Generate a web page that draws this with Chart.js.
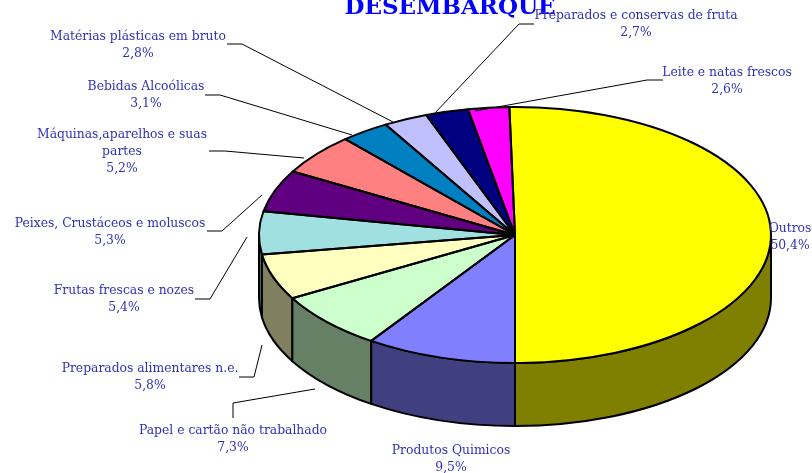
<!DOCTYPE html>
<html><head><meta charset="utf-8">
<style>html,body{margin:0;padding:0;background:#fff;overflow:hidden}canvas{display:block}</style>
<script src="https://cdn.jsdelivr.net/npm/chart.js@4"></script></head>
<body><div style="width:812px;height:473px"><canvas id="c" width="812" height="473"></canvas></div>
<script>
const titleText = "DESEMBARQUE";
const categories = ["Outros","Produtos Quimicos","Papel e cartão não trabalhado","Preparados alimentares n.e.","Frutas frescas e nozes","Peixes, Crustáceos e moluscos","Máquinas,aparelhos e suas partes","Bebidas Alcoólicas","Matérias plásticas em bruto","Preparados e conservas de fruta","Leite e natas frescos"];
const shares = [50.4,9.5,7.3,5.8,5.4,5.3,5.2,3.1,2.8,2.7,2.6];
const topColors = ["#FFFF00","#8080FF","#CCFFCC","#FFFFC0","#A0E0E0","#600080","#FF8080","#0080C0","#C0C0FF","#000080","#FF00FF"];
const sideColors = ["#808000","#404080","#668066","#808060","#507070","#300040","#804040","#004060","#606080","#000040","#800080"];
// label layout: wrapped lines, centre x, first baseline y
const labelLines = [["Outros"],["Produtos Quimicos"],["Papel e cartão não trabalhado"],["Preparados alimentares n.e."],["Frutas frescas e nozes"],["Peixes, Crustáceos e moluscos"],["Máquinas,aparelhos e suas","partes"],["Bebidas Alcoólicas"],["Matérias plásticas em bruto"],["Preparados e conservas de fruta"],["Leite e natas frescos"]];
const labelX = [790,451,233,150,124,110,122,146,138,636,727];
const labelY = [232,454,434,372,294,227,138,90,40,19,76];
const leaders = [null,null,
 [[233,418],[233,403],[315,389]],
 [[239,377],[254,377],[262,345]],
 [[195,299],[210,299],[247,237]],
 [[207,231],[222,231],[262,195]],
 [[209,151],[225,151],[304,158]],
 [[205,95],[220,95],[352,135]],
 [[227,44],[242,44],[393,122]],
 [[534,24],[519,24],[434,114]],
 [[663,80],[647,80],[475,111]]];
const RX = 256, TILT = 0.5, DEPTH = 63;
const TEXT = "#3030B8", LABEL_FONT = "12.35px 'DejaVu Serif'", LINE = 17;

const pie3d = {
  id:"pie3d",
  beforeDraw(chart){
    const ctx = chart.ctx;
    ctx.save();
    ctx.font = "bold 23px 'DejaVu Serif'";
    ctx.fillStyle = "#0000FF"; ctx.textAlign="center"; ctx.textBaseline="alphabetic";
    ctx.fillText(titleText,450,14);
    ctx.restore();
  },
  beforeDatasetsDraw(chart){
    const ctx = chart.ctx, arcs = chart.getDatasetMeta(0).data;
    const cx = arcs[0].x, cy = arcs[0].y, ry = RX*TILT;
    ctx.save();
    ctx.lineWidth = 2; ctx.strokeStyle="#000"; ctx.lineJoin="round";
    const TAU = Math.PI*2;
    const walls = [];
    arcs.forEach((a,i)=>{
      let s = a.startAngle, e = a.endAngle;
      while(s<-1e-6){s+=TAU;e+=TAU;}
      const from = s, to = Math.min(e,Math.PI);
      if(from<Math.PI) walls.push({i,from,to});
      if(e>TAU){ walls.push({i,from:0,to:Math.min(e-TAU,Math.PI)}); }
    });
    walls.sort((p,q)=>Math.abs(Math.cos((q.from+q.to)/2))-Math.abs(Math.cos((p.from+p.to)/2)));
    walls.forEach(w=>{
      ctx.beginPath();
      ctx.ellipse(cx,cy,RX,ry,0,w.from,w.to,false);
      ctx.ellipse(cx,cy+DEPTH,RX,ry,0,w.to,w.from,true);
      ctx.closePath();
      ctx.fillStyle = sideColors[w.i];
      ctx.fill(); ctx.stroke();
    });
    ctx.restore();
    ctx.save();
    ctx.translate(cx,cy); ctx.scale(1,TILT); ctx.translate(-cx,-cy);
  },
  afterDatasetsDraw(chart){
    const ctx = chart.ctx, arcs = chart.getDatasetMeta(0).data;
    ctx.restore();
    const cx = arcs[0].x, cy = arcs[0].y, ry = RX*TILT;
    ctx.save();
    ctx.lineWidth = 2; ctx.strokeStyle="#000"; ctx.lineJoin="round";
    arcs.forEach(a=>{
      ctx.beginPath();
      ctx.moveTo(cx,cy);
      ctx.ellipse(cx,cy,RX,ry,0,a.startAngle,a.endAngle,false);
      ctx.closePath();
      ctx.stroke();
    });
    ctx.restore();
    // leaders + labels
    ctx.save();
    ctx.lineWidth = 1; ctx.strokeStyle="#000";
    leaders.forEach(l=>{ if(!l) return;
      ctx.beginPath(); l.forEach((p,k)=>k?ctx.lineTo(p[0],p[1]):ctx.moveTo(p[0],p[1])); ctx.stroke();
    });
    ctx.font = LABEL_FONT; ctx.fillStyle = TEXT; ctx.textAlign="center"; ctx.textBaseline="alphabetic";
    shares.forEach((v,i)=>{
      const lines = labelLines[i].concat(v.toFixed(1).replace(".",",")+"%");
      lines.forEach((t,k)=>ctx.fillText(t,labelX[i],labelY[i]+k*LINE));
    });
    ctx.restore();
  }
};
new Chart(document.getElementById("c"),{
  type:"pie",
  data:{labels:categories,datasets:[{data:shares,backgroundColor:topColors,borderWidth:0,clip:false}]},
  options:{responsive:false,animation:false,rotation:-1.26,radius:RX,
    layout:{padding:{left:218,top:0,right:0,bottom:3}},
    plugins:{legend:{display:false},tooltip:{enabled:false},title:{display:false}}},
  plugins:[pie3d]
});
</script></body></html>
